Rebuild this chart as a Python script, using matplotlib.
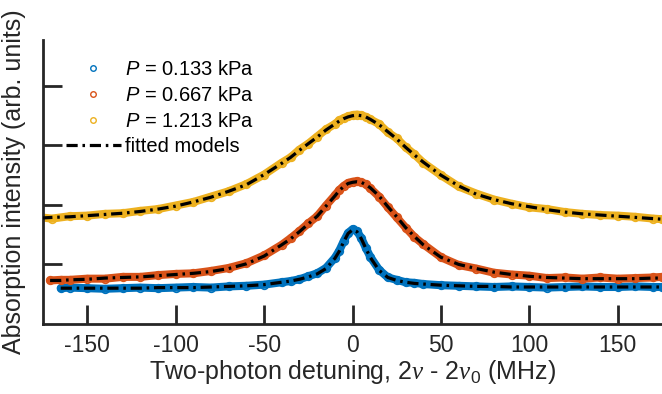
import matplotlib.pyplot as plt
import numpy as np

plt.rcParams['font.family'] = ['Liberation Sans', 'DejaVu Sans']
plt.rcParams['mathtext.fontset'] = 'custom'
plt.rcParams['mathtext.rm'] = 'Liberation Sans'
plt.rcParams['mathtext.it'] = 'Liberation Sans:italic'
plt.rcParams['mathtext.cal'] = 'Liberation Serif:italic'
plt.rcParams['axes.unicode_minus'] = False

# detuning grids (MHz)
x_blue = [-165, -160, -150, -140, -130, -120, -110, -100, -90, -80, -70, -60, -50, -40, -35, -30, -25,
          -20, -15, -10, -7.5, -5, -2.5, 0, 2.5, 5, 7.5, 10, 15, 20, 25, 30, 35, 40, 50, 60, 70, 80,
          90, 100, 110, 120, 130, 140, 150, 160, 170, 175]
x_orange = [-171, -165, -160, -150, -140, -130, -120, -110, -100, -90, -80, -70, -60, -50, -40, -35, -30, -25,
            -20, -15, -10, -7.5, -5, -2.5, 0, 2.5, 5, 7.5, 10, 15, 20, 25, 30, 35, 40, 50, 60, 70, 80,
            90, 100, 110, 120, 130, 140, 150, 160, 170, 175]
x_yellow = [-176, -170, -160, -150, -140, -130, -120, -110, -100, -90, -80, -70, -60, -50, -40, -35, -30, -25,
            -20, -15, -10, -7.5, -5, -2.5, 0, 2.5, 5, 7.5, 10, 15, 20, 25, 30, 35, 40, 50, 60, 70, 80,
            90, 100, 110, 120, 130, 140, 150, 160, 170, 175]

# measured absorption (arb. units)
d_blue = [0.60, 0.61, 0.60, 0.59, 0.60, 0.61, 0.60, 0.61, 0.62, 0.61, 0.63, 0.64, 0.66, 0.70, 0.72, 0.75, 0.80,
          0.85, 0.94, 1.11, 1.23, 1.39, 1.53, 1.59, 1.56, 1.44, 1.28, 1.13, 0.91, 0.78, 0.74, 0.70, 0.69, 0.67,
          0.65, 0.64, 0.63, 0.62, 0.63, 0.62, 0.61, 0.62, 0.63, 0.62, 0.62, 0.63, 0.62, 0.62]
d_orange = [0.73, 0.74, 0.74, 0.76, 0.76, 0.79, 0.79, 0.82, 0.84, 0.85, 0.89, 0.94, 1.02, 1.15, 1.33, 1.44,
            1.56, 1.69, 1.81, 1.99, 2.16, 2.25, 2.32, 2.37, 2.39, 2.40, 2.38, 2.35, 2.28, 2.14, 1.96, 1.79,
            1.62, 1.46, 1.34, 1.12, 0.99, 0.93, 0.86, 0.83, 0.81, 0.77, 0.78, 0.76, 0.78, 0.76, 0.77,
            0.78, 0.79]
d_yellow = [1.79, 1.77, 1.81, 1.82, 1.85, 1.86, 1.90, 1.93, 1.99, 2.05, 2.14, 2.23, 2.35, 2.51, 2.71, 2.80,
            2.93, 3.03, 3.15, 3.27, 3.36, 3.42, 3.46, 3.49, 3.51, 3.52, 3.51, 3.48, 3.44, 3.36, 3.22, 3.12,
            2.97, 2.85, 2.71, 2.50, 2.31, 2.19, 2.09, 2.02, 1.96, 1.93, 1.88, 1.85, 1.83, 1.82, 1.80,
            1.77, 1.76]

# fitted models
f_blue = [0.60, 0.60, 0.60, 0.60, 0.60, 0.60, 0.61, 0.61, 0.61, 0.62, 0.63, 0.64, 0.66, 0.70, 0.72, 0.75, 0.79,
          0.84, 0.93, 1.10, 1.22, 1.38, 1.52, 1.58, 1.55, 1.43, 1.27, 1.12, 0.90, 0.78, 0.73, 0.70, 0.68, 0.67,
          0.65, 0.64, 0.63, 0.63, 0.62, 0.62, 0.62, 0.62, 0.62, 0.62, 0.62, 0.62, 0.62, 0.62]
f_orange = [0.73, 0.73, 0.74, 0.75, 0.77, 0.78, 0.79, 0.81, 0.83, 0.85, 0.88, 0.93, 1.01, 1.14, 1.33, 1.43,
            1.55, 1.68, 1.81, 1.98, 2.15, 2.24, 2.31, 2.36, 2.38, 2.39, 2.38, 2.34, 2.29, 2.15, 1.97, 1.80,
            1.62, 1.47, 1.33, 1.12, 1.00, 0.93, 0.87, 0.83, 0.80, 0.78, 0.77, 0.76, 0.76, 0.76, 0.76,
            0.77, 0.77]
f_yellow = [1.78, 1.79, 1.80, 1.82, 1.84, 1.86, 1.89, 1.93, 1.98, 2.05, 2.13, 2.23, 2.34, 2.51, 2.70, 2.80,
            2.92, 3.03, 3.14, 3.26, 3.36, 3.41, 3.45, 3.48, 3.50, 3.51, 3.50, 3.48, 3.44, 3.35, 3.23, 3.11,
            2.97, 2.84, 2.72, 2.50, 2.32, 2.18, 2.09, 2.02, 1.97, 1.92, 1.88, 1.85, 1.83, 1.81, 1.79,
            1.77, 1.76]

labels = [r'$P$ = 0.133 kPa', r'$P$ = 0.667 kPa', r'$P$ = 1.213 kPa']
colors = ['#0072BD', '#D95319', '#EDB120']

fig = plt.figure(figsize=(6.62, 3.94), dpi=100)
ax = fig.add_axes([0.065, 0.178, 0.935, 0.72])

handles = []
for xs, ds, c, lab in zip([x_blue, x_orange, x_yellow], [d_blue, d_orange, d_yellow], colors, labels):
    ax.plot(xs, ds, color=c, lw=5.8, solid_capstyle='round', solid_joinstyle='round', zorder=2)
    ax.plot(xs, ds, 'o', mfc='none', mec=c, ms=5.5, mew=1.2, zorder=2)
    h, = ax.plot([], [], 'o', mfc='none', mec=c, ms=4, mew=1.0, label=lab)
    handles.append(h)

dash = (0, (3.5, 1.5, 0.8, 1.5))
for xs, fs in zip([x_blue, x_orange, x_yellow], [f_blue, f_orange, f_yellow]):
    ax.plot(xs, fs, color='k', lw=2.3, linestyle=dash, zorder=3)
hf, = ax.plot([], [], color='k', lw=2.3, linestyle=dash, label='fitted models')
handles.append(hf)

ax.set_xlim(-175, 175)
ax.set_ylim(0, 4.77)
ax.set_xticks([-150, -100, -50, 0, 50, 100, 150])
ax.set_yticks([1, 2, 3, 4])
ax.set_yticklabels([])
ax.spines['top'].set_visible(False)
ax.spines['right'].set_visible(False)
for s in ['left', 'bottom']:
    ax.spines[s].set_linewidth(2)
    ax.spines[s].set_color('#262626')
ax.tick_params(direction='in', length=14, width=2, color='#262626', labelsize=16.5, labelcolor='#262626', pad=7)
ax.set_xlabel(r'Two-photon detuning, 2$\mathcal{\nu}$ - 2$\mathcal{\nu}_{\mathrm{0}}$ (MHz)', fontsize=18,
              color='#262626', labelpad=1)
ax.set_ylabel('Absorption intensity (arb. units)', fontsize=18, color='#262626', labelpad=5)

ax.legend(handles=handles, loc='upper left', bbox_to_anchor=(0.099, 0.847), bbox_transform=fig.transFigure,
          frameon=False, fontsize=14.5, handlelength=2.75, handletextpad=0.2, labelspacing=0.33,
          borderpad=0, borderaxespad=0)

fig.savefig('out.png', dpi=100)
